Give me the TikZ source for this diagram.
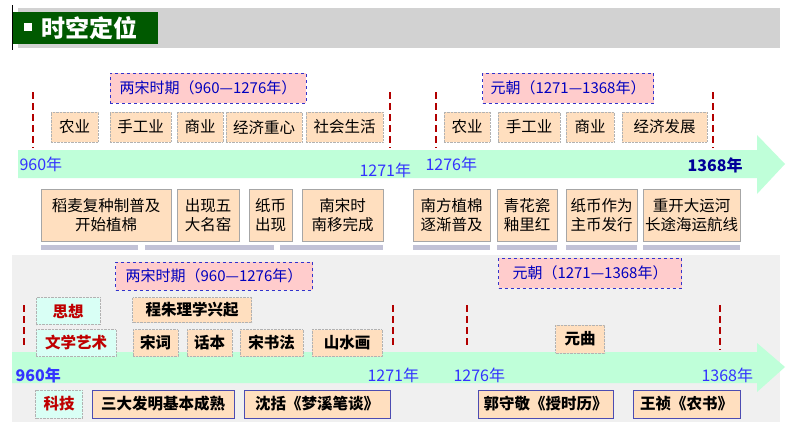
\documentclass[tikz,border=0pt]{standalone}
\usepackage{fontspec}
\setmainfont{Noto Sans CJK SC}
\begin{document}
\begin{tikzpicture}[x=1pt,y=-1pt,
 ob/.style={draw=gray!60,densely dotted,fill=orange!25,inner sep=0pt,align=center,font=\fontsize{15.5}{19}\selectfont},
 obb/.style={ob,font=\fontsize{15.5}{19}\selectfont\bfseries},
 gb/.style={draw=gray!60,densely dotted,fill=green!25!cyan!15,inner sep=0pt,text=red!75!black,font=\fontsize{15.5}{19}\selectfont\bfseries},
 pb/.style={draw=blue!60!gray,dashed,thick,fill=red!20,inner sep=0pt,text=blue!75!black,font=\fontsize{15}{17}\selectfont},
 rd/.style={red!70!black,dash pattern=on 7pt off 4pt,line width=2pt},
 yr/.style={text=blue!80,font=\fontsize{16}{18}\selectfont},
 arr/.style={fill=green!60!cyan!25}]
\useasboundingbox (0,0) rectangle (794,447);
\fill[white] (0,0) rectangle (794,447);
% title
\fill[gray!35] (18,8) rectangle (780,48);
\fill[green!35!black] (12,12) rectangle (158,44);
\draw[black] (12,5) -- (12,50);
\fill[white] (24,23) rectangle (32,31);
\node[text=white,font=\fontsize{24}{26}\selectfont\bfseries,anchor=west] (ttl) at (38,28) {时空定位};
% top arrow
\path[arr] (18,150) -- (757,150) -- (757,135) -- (785,164) -- (757,194) -- (757,178) -- (18,178) -- cycle;
\foreach \x in {33,390,436,713} \draw[rd] (\x,92) -- (\x,148);
\node[pb,minimum width=196,minimum height=30] (p1) at (208,88) {两宋时期（960—1276年）};
\node[pb,minimum width=171,minimum height=30] (p2) at (568,88) {元朝（1271—1368年）};
\foreach \a/\b/\t/\n in {51/98/农业/a1,110/171/手工业/a2,177/223/商业/a3,226/302/经济重心/a4,306/383/社会生活/a5,444/490/农业/b1,498/560/手工业/b2,566/614/商业/b3,622/707/经济发展/b4}
 \node[ob,minimum width=\b-\a,minimum height=30] (\n) at ({(\a+\b)/2},127) {\t};
\node[yr,anchor=west] (y1) at (16,164) {960年};
\node[yr,anchor=west] (y2) at (356,170) {1271年};
\node[yr,anchor=west] (y3) at (422,164) {1276年};
\node[yr,anchor=west,text=blue!60!black,font=\fontsize{16}{18}\selectfont\bfseries] (y4) at (684,165) {1368年};
\foreach \a/\b/\t/\n in {41/171/{稻麦复种制普及\\开始植棉}/c1,177/239/{出现五\\大名窑}/c2,249/292/{纸币\\出现}/c3,302/383/{南宋时\\南移完成}/c4,413/490/{南方植棉\\逐渐普及}/c5,497/557/{青花瓷\\釉里红}/c6,566/637/{纸币作为\\主币发行}/c7,643/740/{重开大运河\\长途海运航线}/c8}
 \node[ob,draw=gray!70,solid,minimum width=\b-\a,minimum height=52] (\n) at ({(\a+\b)/2},215) {\t};
\foreach \a/\b in {41/138,145/274,280/383,413/490,497/557,566/637,643/740} \fill[blue!20!gray!40] (\a,245) rectangle (\b,250);
% bottom panel
\fill[gray!12] (12,255) rectangle (780,422);
\path[arr] (12,352) -- (757,352) -- (757,343) -- (785,367) -- (757,392) -- (757,383) -- (12,383) -- cycle;
\foreach \x/\t/\b in {24/305/345,393/305/345,467/305/345,720/305/350} \draw[rd] (\x,\t) -- (\x,\b);
\node[pb,minimum width=197,minimum height=28] (q1) at (214,276) {两宋时期（960—1276年）};
\node[pb,minimum width=183,minimum height=30] (q2) at (590,273) {元朝（1271—1368年）};
\node[gb,minimum width=64,minimum height=27] (s1) at (68,311) {思想};
\node[gb,minimum width=80,minimum height=27] (s2) at (76,343) {文学艺术};
\node[gb,minimum width=47,minimum height=28] (s3) at (59,404) {科技};
\node[obb,minimum width=119,minimum height=25] (d1) at (192,310) {程朱理学兴起};
\foreach \a/\b/\t/\n in {133/178/宋词/e1,187/232/话本/e2,240/303/宋书法/e3,312/382/山水画/e4}
 \node[obb,minimum width=\b-\a,minimum height=27] (\n) at ({(\a+\b)/2},343) {\t};
\node[obb,minimum width=49,minimum height=28] (e5) at (580,339) {元曲};
\foreach \a/\b/\t/\n in {92/234/三大发明基本成熟/f1,244/390/沈括《梦溪笔谈》/f2,478/613/郭守敬《授时历》/f3,633/740/王祯《农书》/f4}
 \node[obb,draw=blue!40!gray,solid,minimum width=\b-\a,minimum height=28] (\n) at ({(\a+\b)/2},404) {\t};
\node[yr,anchor=west,font=\fontsize{16}{18}\selectfont\bfseries] (z1) at (12,375) {960年};
\node[yr,anchor=west] (z2) at (364,375) {1271年};
\node[yr,anchor=west] (z3) at (450,375) {1276年};
\node[yr,anchor=west] (z4) at (698,375) {1368年};
\end{tikzpicture}
\end{document}
